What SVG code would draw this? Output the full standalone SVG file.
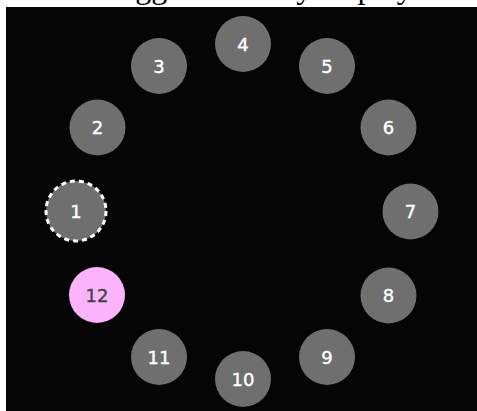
<svg xmlns="http://www.w3.org/2000/svg" width="477" height="411" viewBox="0 0 477 411">
<style>
.n{fill:#6f6f6f}
.t{font-family:"DejaVu Sans",sans-serif;font-size:18px;fill:#ffffff;stroke:#ffffff;stroke-width:0.4;text-anchor:middle}
.sel{stroke:#ffffff;stroke-width:3;stroke-dasharray:5 4}
.pk{fill:#fbb3fb}
.pt{fill:#444444;stroke:#444444}
</style>
<rect x="0" y="0" width="477" height="411" fill="#ffffff"/>
<text x="102" y="-2" font-family="Liberation Serif,serif" font-size="32" fill="#000000">Toggle visibility display</text>
<rect x="6" y="7" width="471" height="404" fill="#050505"/>
<g id="connectors"></g>
<g id="node1"><circle class="n sel" cx="76" cy="211" r="30"/><text class="t" x="76" y="217.5">1</text></g>
<g id="node2"><circle class="n" cx="97.5" cy="127.5" r="28"/><text class="t" x="97.5" y="134">2</text></g>
<g id="node3"><circle class="n" cx="159" cy="66" r="28"/><text class="t" x="159" y="72.5">3</text></g>
<g id="node4"><circle class="n" cx="243" cy="44" r="28"/><text class="t" x="243" y="50.5">4</text></g>
<g id="node5"><circle class="n" cx="327" cy="66" r="28"/><text class="t" x="327" y="72.5">5</text></g>
<g id="node6"><circle class="n" cx="388.5" cy="127.5" r="28"/><text class="t" x="388.5" y="134">6</text></g>
<g id="node7"><circle class="n" cx="410.5" cy="211.5" r="28"/><text class="t" x="410.5" y="218">7</text></g>
<g id="node8"><circle class="n" cx="388.5" cy="295.5" r="28"/><text class="t" x="388.5" y="302">8</text></g>
<g id="node9"><circle class="n" cx="327" cy="357" r="28"/><text class="t" x="327" y="363.5">9</text></g>
<g id="node10"><circle class="n" cx="243" cy="379" r="28"/><text class="t" x="243" y="385.5">10</text></g>
<g id="node11"><circle class="n" cx="159" cy="357" r="28"/><text class="t" x="159" y="363.5">11</text></g>
<g id="node12"><circle class="pk" cx="97" cy="295" r="28"/><text class="t pt" x="97" y="301.5">12</text></g>
</svg>
